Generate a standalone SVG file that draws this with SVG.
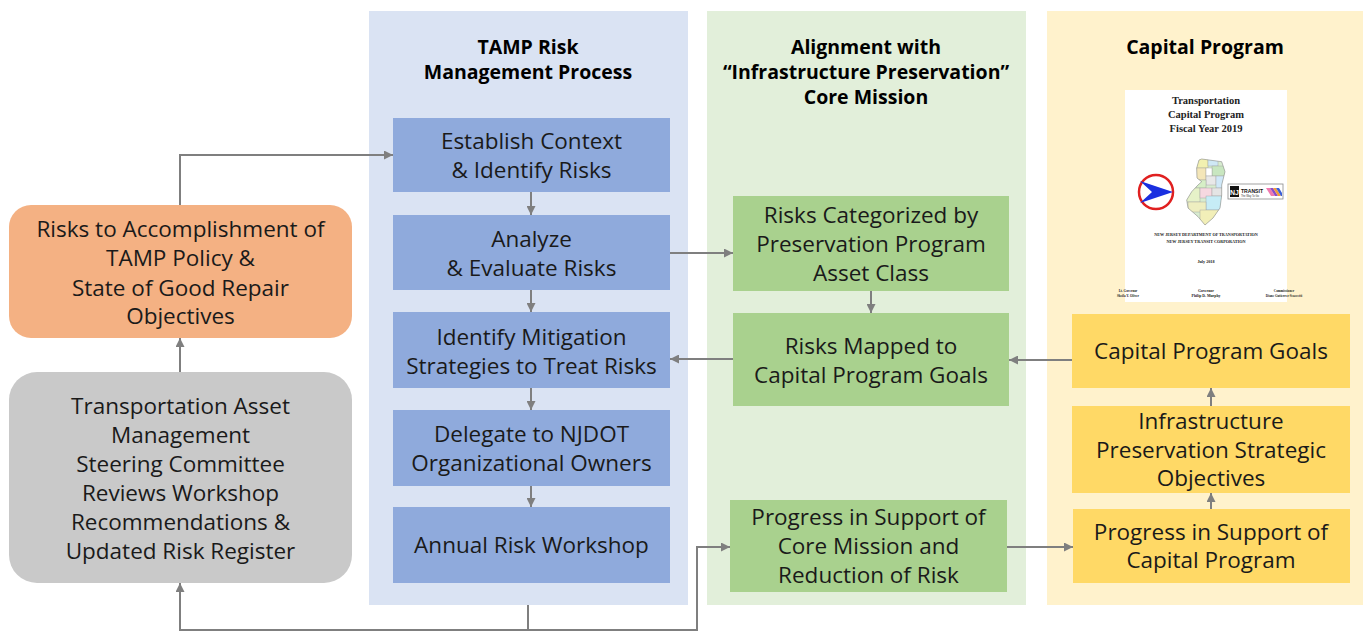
<svg xmlns="http://www.w3.org/2000/svg" width="1363" height="632" viewBox="0 0 1363 632">
  <style>
    .t { font-family: "Open Sans", "Noto Sans", sans-serif; font-size: 22.5px; fill: #1a1a1a; text-anchor: middle; }
    .h { font-family: "Open Sans", "Noto Sans", sans-serif; font-size: 19.5px; font-weight: bold; fill: #000; text-anchor: middle; }
    .doc { font-family: "Liberation Serif", serif; font-weight: bold; fill: #222; text-anchor: middle; }
    .blue { fill: #8faadc; }
    .green { fill: #a9d18e; }
    .yellow { fill: #ffd966; }
    .cty { stroke: #9c9c9c; stroke-width: 0.4; }
    .conn { fill: none; stroke: #7f7f7f; stroke-width: 2; }
  </style>
  <defs>
    <marker id="ah" viewBox="0 0 10 10" refX="10" refY="5" markerWidth="10" markerHeight="9" markerUnits="userSpaceOnUse" orient="auto">
      <path d="M0,0 L10,5 L0,10 z" fill="#7f7f7f"/>
    </marker>
    <path id="nj" d="M1199,160 L1201.7,159 L1221.7,161.7 L1225,171.7 L1221.7,185 L1221.7,195 L1220,208 L1213,218 L1205,225 L1198,216.7 L1188,208 L1186.7,200 L1191.7,191.7 L1198,185 L1201.7,181.7 L1197,178 L1196.7,168 Z"/>
    <clipPath id="njclip">
      <use href="#nj"/>
    </clipPath>
  </defs>

  <rect width="1363" height="632" fill="#ffffff"/>

  <!-- column panels -->
  <g id="panel-risk-process">
    <rect x="369" y="11" width="319" height="594" fill="#dae3f3"/>
    <text class="h" x="528" y="54">TAMP Risk</text>
    <text class="h" x="528" y="79">Management Process</text>
  </g>
  <g id="panel-alignment">
    <rect x="707" y="11" width="319" height="594" fill="#e2efda"/>
    <text class="h" x="866" y="54">Alignment with</text>
    <text class="h" x="866" y="79">“Infrastructure Preservation”</text>
    <text class="h" x="866" y="104">Core Mission</text>
  </g>
  <g id="panel-capital">
    <rect x="1047" y="11" width="316" height="594" fill="#fff2cc"/>
    <text class="h" x="1205" y="54">Capital Program</text>
  </g>

  <!-- report cover -->
  <g id="report-cover">
    <rect x="1125" y="90" width="162" height="212" fill="#ffffff"/>
    <text class="doc" x="1206" y="104" font-size="10.5">Transportation</text>
    <text class="doc" x="1206" y="118" font-size="10.5">Capital Program</text>
    <text class="doc" x="1206" y="132" font-size="10.5">Fiscal Year 2019</text>
    <!-- department seal -->
    <circle cx="1156" cy="192" r="17" fill="#ffffff" stroke="#e02020" stroke-width="2.5"/>
    <path d="M1140,181 L1173,192 L1140,203 L1152,192 Z" fill="#1a2fe0"/>
    <!-- state map with counties -->
    <g clip-path="url(#njclip)">
      <rect x="1180" y="155" width="50" height="75" fill="#d8ecd0"/>
      <rect class="cty" x="1196" y="158" width="12" height="10" fill="#f2f0b0"/>
      <rect class="cty" x="1208" y="158" width="10" height="8" fill="#cfe8f5"/>
      <rect class="cty" x="1212" y="166" width="14" height="10" fill="#c8e6c0"/>
      <rect class="cty" x="1196" y="168" width="10" height="12" fill="#f4e6b8"/>
      <rect class="cty" x="1206" y="168" width="6" height="8" fill="#ffffff"/>
      <rect class="cty" x="1206" y="176" width="10" height="9" fill="#e8e8e8"/>
      <rect class="cty" x="1216" y="176" width="10" height="12" fill="#d0e8f8"/>
      <rect class="cty" x="1196" y="180" width="10" height="8" fill="#d6efc6"/>
      <rect class="cty" x="1186" y="188" width="14" height="14" fill="#e6f2c8"/>
      <rect class="cty" x="1200" y="188" width="12" height="10" fill="#f6d8e0"/>
      <rect class="cty" x="1212" y="188" width="14" height="8" fill="#e4e4e4"/>
      <rect class="cty" x="1206" y="196" width="16" height="14" fill="#c6ecf6"/>
      <rect class="cty" x="1188" y="202" width="18" height="10" fill="#eeeec0"/>
      <rect class="cty" x="1200" y="210" width="22" height="16" fill="#f2efb8"/>
    </g>
    <use href="#nj" fill="none" stroke="#8a8a8a" stroke-width="0.6"/>
    <!-- transit logo -->
    <rect x="1228" y="184" width="55" height="15" fill="#ffffff" stroke="#8a8a8a" stroke-width="0.8"/>
    <rect x="1230" y="186" width="9" height="11" fill="#111"/>
    <text x="1234.5" y="194.5" font-family="Liberation Sans, sans-serif" font-size="7" font-weight="bold" fill="#ffffff" text-anchor="middle">NJ</text>
    <text x="1241" y="192.5" font-family="Liberation Sans, sans-serif" font-size="6" font-weight="bold" fill="#111" textLength="22" lengthAdjust="spacingAndGlyphs">TRANSIT</text>
    <text x="1241" y="196.8" font-family="Liberation Sans, sans-serif" font-size="2.6" fill="#333" textLength="18" lengthAdjust="spacingAndGlyphs">The Way To Go</text>
    <path d="M1266,188 L1270,188 L1275,196 L1271,196 Z" fill="#f07ab0"/>
    <path d="M1270,188 L1273,188 L1278,196 L1275,196 Z" fill="#8a4cc8"/>
    <path d="M1273,188 L1276,188 L1281,196 L1278,196 Z" fill="#f29a3a"/>
    <path d="M1276,188 L1279,188 L1282,193 L1282,196 L1281,196 Z" fill="#3a5fd8"/>
    <text class="doc" x="1206" y="236" font-size="4.2">NEW JERSEY DEPARTMENT OF TRANSPORTATION</text>
    <text class="doc" x="1206" y="243" font-size="4.2">NEW JERSEY TRANSIT CORPORATION</text>
    <text class="doc" x="1206" y="263" font-size="4.2">July 2018</text>
    <text class="doc" x="1128" y="292" font-size="3.3" text-anchor="start">Lt. Governor</text>
    <text class="doc" x="1128" y="297" font-size="3.3" text-anchor="start">Sheila Y. Oliver</text>
    <text class="doc" x="1206" y="292" font-size="3.8">Governor</text>
    <text class="doc" x="1206" y="297" font-size="3.8">Philip D. Murphy</text>
    <text class="doc" x="1284" y="292" font-size="3.3" text-anchor="end">Commissioner</text>
    <text class="doc" x="1284" y="297" font-size="3.3" text-anchor="end">Diane Gutierrez-Scaccetti</text>
  </g>

  <!-- left-hand boxes -->
  <g id="risks-to-accomplishment">
    <rect x="9" y="205" width="343" height="133" rx="22" fill="#f4b183"/>
    <text class="t" x="180.5" y="237">Risks to Accomplishment of</text>
    <text class="t" x="180.5" y="266">TAMP Policy &amp;</text>
    <text class="t" x="180.5" y="296">State of Good Repair</text>
    <text class="t" x="180.5" y="324">Objectives</text>
  </g>
  <g id="steering-committee">
    <rect x="9" y="372" width="343" height="211" rx="28" fill="#c9c9c9"/>
    <text class="t" x="180.5" y="414">Transportation Asset</text>
    <text class="t" x="180.5" y="443">Management</text>
    <text class="t" x="180.5" y="472">Steering Committee</text>
    <text class="t" x="180.5" y="501">Reviews Workshop</text>
    <text class="t" x="180.5" y="530">Recommendations &amp;</text>
    <text class="t" x="180.5" y="559">Updated Risk Register</text>
  </g>

  <!-- risk management process steps -->
  <g id="establish-context">
    <rect class="blue" x="393" y="118" width="277" height="74"/>
    <text class="t" x="531.5" y="149">Establish Context</text>
    <text class="t" x="531.5" y="178">&amp; Identify Risks</text>
  </g>
  <g id="analyze-evaluate">
    <rect class="blue" x="393" y="215" width="277" height="75"/>
    <text class="t" x="531.5" y="247">Analyze</text>
    <text class="t" x="531.5" y="276">&amp; Evaluate Risks</text>
  </g>
  <g id="identify-mitigation">
    <rect class="blue" x="393" y="312" width="277" height="76"/>
    <text class="t" x="531.5" y="345">Identify Mitigation</text>
    <text class="t" x="531.5" y="374">Strategies to Treat Risks</text>
  </g>
  <g id="delegate-owners">
    <rect class="blue" x="393" y="410" width="277" height="76"/>
    <text class="t" x="531.5" y="442">Delegate to NJDOT</text>
    <text class="t" x="531.5" y="471">Organizational Owners</text>
  </g>
  <g id="annual-workshop">
    <rect class="blue" x="393" y="507" width="277" height="76"/>
    <text class="t" x="531.5" y="553">Annual Risk Workshop</text>
  </g>

  <!-- alignment boxes -->
  <g id="risks-categorized">
    <rect class="green" x="733" y="196" width="276" height="95"/>
    <text class="t" x="871" y="223">Risks Categorized by</text>
    <text class="t" x="871" y="252">Preservation Program</text>
    <text class="t" x="871" y="281">Asset Class</text>
  </g>
  <g id="risks-mapped">
    <rect class="green" x="733" y="313" width="276" height="93"/>
    <text class="t" x="871" y="354">Risks Mapped to</text>
    <text class="t" x="871" y="383">Capital Program Goals</text>
  </g>
  <g id="progress-core-mission">
    <rect class="green" x="730" y="500" width="277" height="92"/>
    <text class="t" x="868.5" y="525">Progress in Support of</text>
    <text class="t" x="868.5" y="554">Core Mission and</text>
    <text class="t" x="868.5" y="583">Reduction of Risk</text>
  </g>

  <!-- capital program boxes -->
  <g id="capital-goals">
    <rect class="yellow" x="1072" y="314" width="278" height="74"/>
    <text class="t" x="1211" y="359">Capital Program Goals</text>
  </g>
  <g id="preservation-objectives">
    <rect class="yellow" x="1072" y="406" width="278" height="87"/>
    <text class="t" x="1211" y="429">Infrastructure</text>
    <text class="t" x="1211" y="458">Preservation Strategic</text>
    <text class="t" x="1211" y="486">Objectives</text>
  </g>
  <g id="progress-capital">
    <rect class="yellow" x="1073" y="509" width="277" height="74"/>
    <text class="t" x="1211" y="540">Progress in Support of</text>
    <text class="t" x="1211" y="568">Capital Program</text>
  </g>

  <!-- connectors -->
  <g id="connectors">
    <path class="conn" d="M180,205 V155 H393" marker-end="url(#ah)"/>
    <path class="conn" d="M180,372 V338" marker-end="url(#ah)"/>
    <path class="conn" d="M531,192 V215" marker-end="url(#ah)"/>
    <path class="conn" d="M531,290 V312" marker-end="url(#ah)"/>
    <path class="conn" d="M531,388 V410" marker-end="url(#ah)"/>
    <path class="conn" d="M531,486 V507" marker-end="url(#ah)"/>
    <path class="conn" d="M670,253 H733" marker-end="url(#ah)"/>
    <path class="conn" d="M871,291 V313" marker-end="url(#ah)"/>
    <path class="conn" d="M733,359 H670" marker-end="url(#ah)"/>
    <path class="conn" d="M1072,360 H1009" marker-end="url(#ah)"/>
    <path class="conn" d="M1007,547 H1073" marker-end="url(#ah)"/>
    <path class="conn" d="M1211,509 V493" marker-end="url(#ah)"/>
    <path class="conn" d="M1211,406 V388" marker-end="url(#ah)"/>
    <path class="conn" d="M528,605 V630 H180 V583" marker-end="url(#ah)"/>
    <path class="conn" d="M528,630 H697 V547 H730" marker-end="url(#ah)"/>
  </g>
</svg>
